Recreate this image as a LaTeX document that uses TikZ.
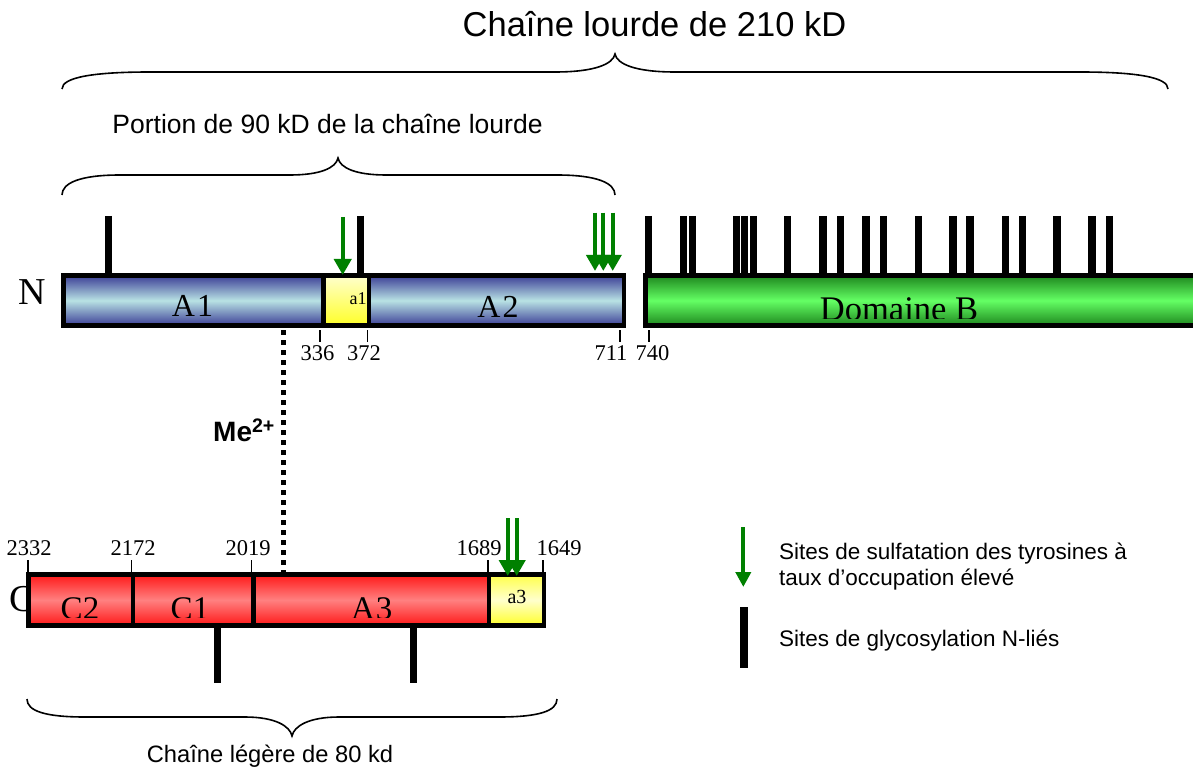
\documentclass[tikz,border=0pt]{standalone}
\usepackage{fontspec}
\setmainfont{Liberation Serif}
\setsansfont{Liberation Sans}
\usetikzlibrary{arrows.meta}
\definecolor{bdark}{RGB}{60,62,150}
\definecolor{blight}{RGB}{184,226,228}
\definecolor{gdark}{RGB}{30,135,30}
\definecolor{glight}{RGB}{100,255,100}
\definecolor{rdark}{RGB}{255,25,25}
\definecolor{rlight}{RGB}{255,128,128}
\definecolor{ydark}{RGB}{255,255,40}
\definecolor{ylight}{RGB}{255,255,205}
\definecolor{sulf}{RGB}{0,128,0}
\begin{document}
\begin{tikzpicture}[x=1pt,y=-1pt,
  dom/.style={draw=black, line width=4.5pt, rectangle, inner sep=0pt, outer sep=0pt, anchor=north west},
  blueb/.style={top color=bdark, bottom color=bdark, middle color=blight},
  greenb/.style={top color=gdark, bottom color=gdark, middle color=glight},
  redb/.style={top color=rdark, bottom color=rdark, middle color=rlight},
  yellowa/.style={top color=ylight, bottom color=ydark},
  yellowb/.style={top color=ydark!80!ylight, bottom color=ydark, middle color=ylight},
  glyco/.style={line width=7.5pt, black},
  sulfarrow/.style={draw=sulf, line width=4pt, -{Triangle[width=17pt,length=16pt,fill=sulf]}},
  tickmark/.style={line width=1.5pt},
  num/.style={font=\fontsize{22.5}{26}\selectfont, anchor=base, inner sep=0pt},
  domlab/.style={font=\fontsize{32}{36}\selectfont, anchor=base, inner sep=0pt},
  sans/.style={font=\sffamily, inner sep=0pt},
  brace/.style={line width=1.6pt, black},
  dotline/.style={line width=5pt, dash pattern=on 5pt off 5pt}
  ]
\useasboundingbox (0,0) rectangle (1193,767);

% titles
\node[sans, anchor=base, font=\sffamily\fontsize{34.5}{40}\selectfont] (title) at (654.5,37) {Chaîne lourde de 210 kD};
\node[sans, anchor=base, font=\sffamily\fontsize{26.5}{30}\selectfont] (portion) at (327.5,134) {Portion de 90 kD de la chaîne lourde};

% braces
\draw[brace] (62,89) .. controls (62,77) and (95,72) .. (150,72) -- (555,72)
  .. controls (595,72) and (613,64) .. (615,54)
  .. controls (617,64) and (635,72) .. (675,72) -- (1080,72)
  .. controls (1135,72) and (1168,77) .. (1168,89);
\draw[brace] (62,195) .. controls (62,183) and (80,175) .. (120,175) -- (290,175)
  .. controls (320,175) and (336,168) .. (338,158)
  .. controls (340,168) and (356,175) .. (386,175) -- (557,175)
  .. controls (597,175) and (615,183) .. (615,195);
\draw[brace] (27,699) .. controls (27,711) and (45,717) .. (85,717) -- (245,717)
  .. controls (275,717) and (290,726) .. (292,736)
  .. controls (294,726) and (309,717) .. (339,717) -- (499,717)
  .. controls (539,717) and (557,711) .. (557,699);

% glycosylation sites (heavy chain)
\foreach \x in {108.3,360.3,648.7,683.7,692.3,736.3,744.7,753.7,787.7,823,840.3,866,883.7,918.7,953,970,1005.3,1022.7,1057,1092,1109.3}
  \draw[glyco] (\x,216) -- (\x,276);

% N label
\node[font=\fontsize{38}{40}\selectfont, anchor=base, inner sep=0pt] (Nlab) at (32,304.3) {N};

% heavy chain
\node[dom, blueb, minimum width=260pt, minimum height=50pt] (A1) at (63.5,275.5) {};
\node[dom, blueb, minimum width=255pt, minimum height=50pt] (A2) at (369,275.5) {};
\node[dom, yellowa, minimum width=45.5pt, minimum height=50pt] (a1) at (323.5,275.5) {};
\node[dom, greenb, minimum width=560pt, minimum height=50pt] (B) at (645.5,275.5) {};

\begin{scope}
\clip (63.5,277.5) rectangle (1193,318.3);
\node[domlab] (A1lab) at (192.5,316.7) {A\kern2pt 1};
\node[domlab] (A2lab) at (498,317) {A\kern2pt 2};
\node[domlab, font=\fontsize{34.5}{38}\selectfont] (Blab) at (899,320.5) {Domaine B};
\end{scope}
\node[anchor=base, inner sep=0pt, font=\fontsize{18}{20}\selectfont] (a1lab) at (358,304) {a1};

% heavy chain ticks
\foreach \x/\n/\lx in {320/336/317.5, 367.7/372/364, 620/711/611, 649/740/652.5}{
  \draw[tickmark] (\x,330) -- (\x,342);
  \node[num] (h\n) at (\lx,360) {\n};
}

% sulfation arrows heavy
\draw[sulfarrow] (342.7,217) -- (342.7,275);
\foreach \x in {595,603.3,612.7}
  \draw[sulfarrow] (\x,212.7) -- (\x,271);

% metal ion bridge
\coordinate (m1) at (283,330);
\coordinate (m2) at (283,572);
\draw[dotline] (m1) -- (m2);
\node[sans, anchor=base west, font=\sffamily\bfseries\fontsize{28}{30}\selectfont] (me) at (213,441.7) {Me\textsuperscript{2+}};

% C label
\node[font=\fontsize{38}{40}\selectfont, anchor=base, inner sep=0pt] (Clab) at (22,611.7) {C};

% light chain glyco
\foreach \x in {217.5,413.7}
  \draw[glyco] (\x,624) -- (\x,683.3);

% light chain
\node[dom, redb, minimum width=104.5pt, minimum height=51pt] (C2) at (28.5,574.5) {};
\node[dom, redb, minimum width=120.5pt, minimum height=51pt] (C1) at (133,574.5) {};
\node[dom, redb, minimum width=235.5pt, minimum height=51pt] (A3) at (253.5,574.5) {};
\node[dom, yellowb, minimum width=55pt, minimum height=51pt] (a3) at (489,574.5) {};

\begin{scope}
\clip (28.5,577) rectangle (544,617.3);
\node[domlab, font=\fontsize{33}{36}\selectfont] (C2lab) at (80,619) {C2};
\node[domlab, font=\fontsize{33}{36}\selectfont] (C1lab) at (190,619) {C1};
\node[domlab, font=\fontsize{33}{36}\selectfont] (A3lab) at (371.7,619) {A\kern1pt 3};
\end{scope}
\node[anchor=base, inner sep=0pt, font=\fontsize{20}{22}\selectfont] (a3lab) at (517,603.3) {a3};

% light chain ticks
\foreach \x/\n/\lx in {28/2332/29, 131.7/2172/133, 251.7/2019/248, 488/1689/479, 543/1649/559}{
  \draw[tickmark] (\x,560) -- (\x,572);
  \node[num] (l\n) at (\lx,555) {\n};
}

% sulfation arrows light
\foreach \x in {507.7,516.7}
  \draw[sulfarrow] (\x,518.3) -- (\x,576);

% bottom label
\node[sans, anchor=base, font=\sffamily\fontsize{23.7}{28}\selectfont] (light) at (270,762) {Chaîne légère de 80 kd};

% legend
\coordinate (ls1) at (743.3,527);
\coordinate (ls2) at (743.3,587);
\draw[draw=sulf, line width=4pt, -{Triangle[width=15pt,length=15pt,fill=sulf]}] (ls1) -- (ls2);
\fill[black] (740,607) rectangle (748.3,668);
\node[sans, anchor=base west, font=\sffamily\fontsize{22.5}{26}\selectfont] (leg1) at (779,559) {Sites de sulfatation des tyrosines à};
\node[sans, anchor=base west, font=\sffamily\fontsize{22.5}{26}\selectfont] (leg2) at (779,585) {taux d’occupation élevé};
\node[sans, anchor=base west, font=\sffamily\fontsize{22.5}{26}\selectfont] (leg3) at (779,646.7) {Sites de glycosylation N-liés};
\end{tikzpicture}
\end{document}
